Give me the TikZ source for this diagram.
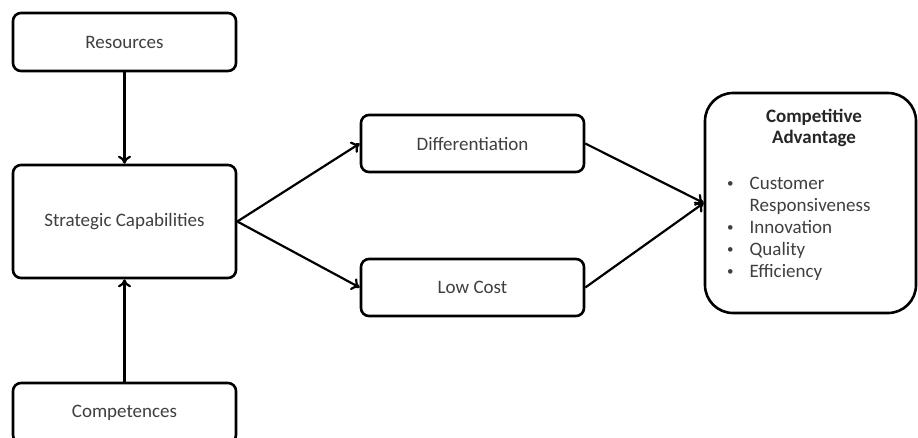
\documentclass[tikz,border=0pt]{standalone}
\usepackage{fontspec}
\setmainfont{Carlito}
\usepackage{tikz}
\usetikzlibrary{positioning, arrows.meta}

\definecolor{boxtext}{HTML}{3F3F3F}
\newcommand{\smallbullet}{\raisebox{2.5pt}{\fontsize{13}{22}\selectfont\textbullet}}

\tikzset{
    box/.style={draw, line width=2.6pt, rounded corners=8pt, fill=white,
        minimum width=223pt, text=boxtext, font=\fontsize{19}{22}\selectfont},
    arrow/.style={-{To[length=8pt, width=13pt]}, line width=2.2pt}
}

\begin{document}
\begin{tikzpicture}[x=1pt, y=-1pt]
    \useasboundingbox (0,0) rectangle (918,437);

    % Left column
    \node[box, minimum height=58pt] (res) at (124.5,42) {Resources};
    \node[box, minimum height=113pt] (strat) at (124.5,221.5) {Strategic Capabilities};
    \node[box, minimum height=60pt] (comp) at (124.5,413) {Competences};

    % Middle column
    \node[box, minimum height=57pt] (diff) at (472.5,143.5) {Differentiation};
    \node[box, minimum height=57pt] (low) at (472.5,287.5) {Low Cost};

    % Right box
    \node[box, minimum width=211pt, minimum height=220pt, rounded corners=28pt] (adv) at (810.5,203) {};
    \node[align=center, font=\fontsize{19}{21}\selectfont\bfseries, text=black!85] (advtitle) at (814,128) {Competitive\\Advantage};
    \node[anchor=north west, inner sep=0pt, text=boxtext, font=\fontsize{19}{22}\selectfont] (advlist) at (727,174)
        {\begin{tabular}{@{}l@{\hspace{16pt}}l@{}}
            \smallbullet & Customer\\
                         & Responsiveness\\
            \smallbullet & Innovation\\
            \smallbullet & Quality\\
            \smallbullet & Efficiency
        \end{tabular}};

    % Connectors
    \draw[arrow] (res) -- (strat);
    \draw[arrow] (comp) -- (strat);
    \draw[arrow] (strat.east) -- (diff.west);
    \draw[arrow] (strat.east) -- (low.west);
    \draw[arrow] (diff.east) -- (adv.west);
    \draw[arrow] (low.east) -- (adv.west);
\end{tikzpicture}
\end{document}
